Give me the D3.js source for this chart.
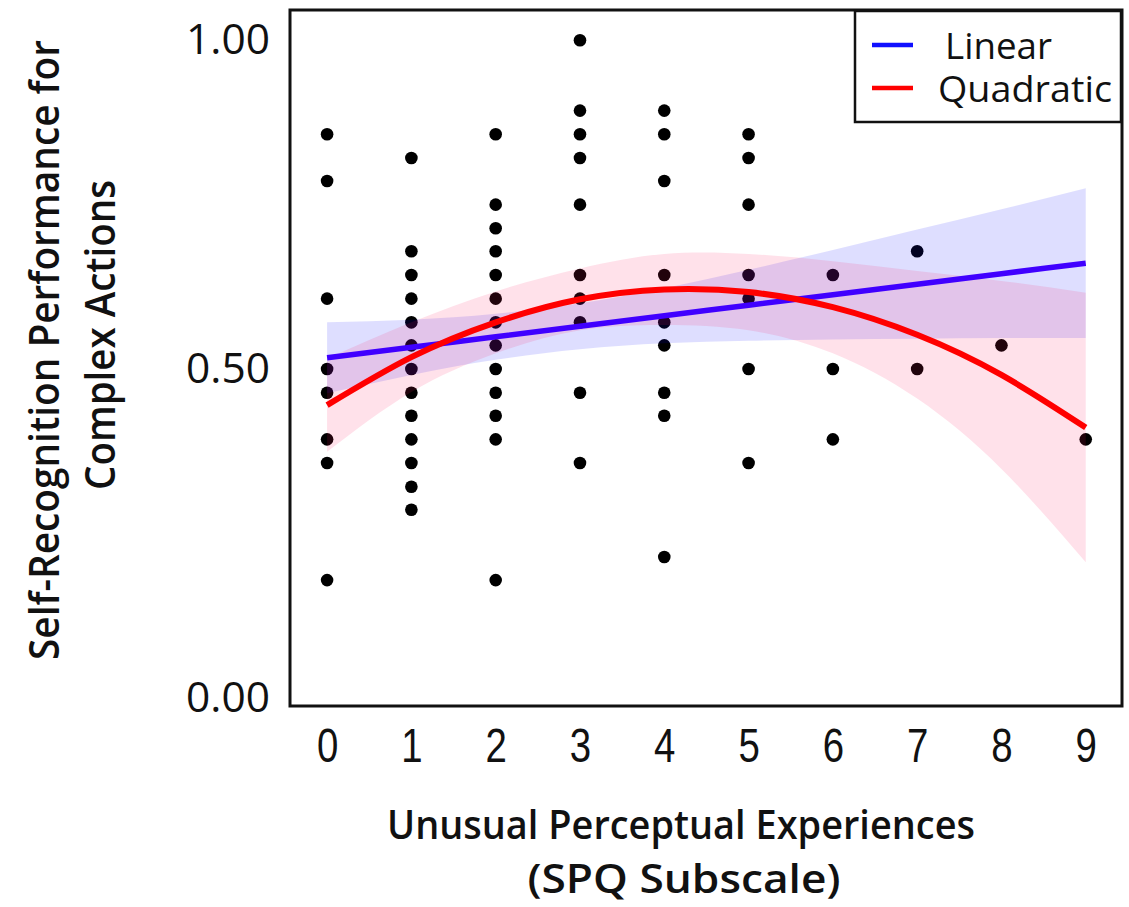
<!DOCTYPE html>
<html>
<head>
<meta charset="utf-8">
<script src="https://cdn.jsdelivr.net/npm/d3@7"></script>
<style>
  html, body { margin: 0; padding: 0; background: #ffffff; }
  svg { display: block; }
</style>
</head>
<body>
<svg id="chart" width="1129" height="907"></svg>
<script>
// ---------------- DATA ----------------
const scoreCategories = [0, 1, 2, 3, 4, 5, 6, 7, 8, 9];
const xTickLabels = ["0", "1", "2", "3", "4", "5", "6", "7", "8", "9"];
const yTickValues = [0, 0.5, 1];
const yTickLabels = ["0.00", "0.50", "1.00"];

// observed performance values per SPQ score
const score0 = [0.857, 0.786, 0.607, 0.500, 0.464, 0.393, 0.357, 0.179];
const score1 = [0.821, 0.679, 0.643, 0.607, 0.571, 0.536, 0.500, 0.464, 0.429, 0.393, 0.357, 0.321, 0.286];
const score2 = [0.857, 0.750, 0.714, 0.679, 0.643, 0.607, 0.571, 0.536, 0.500, 0.464, 0.429, 0.393, 0.179];
const score3 = [1.000, 0.893, 0.857, 0.821, 0.750, 0.643, 0.607, 0.571, 0.464, 0.357];
const score4 = [0.893, 0.857, 0.786, 0.643, 0.571, 0.536, 0.464, 0.429, 0.214];
const score5 = [0.857, 0.821, 0.750, 0.643, 0.607, 0.500, 0.357];
const score6 = [0.643, 0.500, 0.393];
const score7 = [0.679, 0.500];
const score8 = [0.536];
const score9 = [0.393];
const performanceByScore = [score0, score1, score2, score3, score4, score5, score6, score7, score8, score9];

// fitted curves at each score
const fitX = [0, 1, 2, 3, 4, 5, 6, 7, 8, 9];
const linearFit   = [0.517, 0.533, 0.549, 0.565, 0.581, 0.597, 0.613, 0.629, 0.645, 0.661];
const linearLower = [0.463, 0.491, 0.514, 0.530, 0.539, 0.543, 0.545, 0.546, 0.547, 0.547];
const linearUpper = [0.571, 0.575, 0.584, 0.600, 0.623, 0.651, 0.681, 0.712, 0.743, 0.775];
const quadFit     = [0.445, 0.518, 0.571, 0.606, 0.621, 0.617, 0.594, 0.552, 0.491, 0.411];
const quadLower   = [0.374, 0.465, 0.524, 0.559, 0.567, 0.559, 0.524, 0.455, 0.348, 0.206];
const quadUpper   = [0.516, 0.571, 0.618, 0.653, 0.675, 0.675, 0.664, 0.649, 0.634, 0.616];

const legendLabels = ["Linear", "Quadratic"];
const xTitleLines = ["Unusual Perceptual Experiences", "(SPQ Subscale)"];
const yTitleLines = ["Self-Recognition Performance for", "Complex Actions"];

// ---------------- CHART ----------------
const svg = d3.select("#chart");
const plot = { left: 290, right: 1122, top: 10, bottom: 706 };

const x = d3.scaleLinear().domain([-0.44, 9.43]).range([plot.left, plot.right]);
const y = d3.scaleLinear().domain([-0.0125, 1.046]).range([plot.bottom, plot.top]);

function fitWidth(sel, w) {
  sel.attr("textLength", w).attr("lengthAdjust", "spacingAndGlyphs");
}
function squeeze(sel, f) {
  sel.each(function () {
    const n = this.getComputedTextLength();
    d3.select(this).attr("textLength", n * f).attr("lengthAdjust", "spacingAndGlyphs");
  });
}

// points
const points = scoreCategories.flatMap((s, i) => performanceByScore[i].map(v => ({ s, v })));
svg.append("g")
  .selectAll("circle")
  .data(points)
  .join("circle")
  .attr("cx", d => x(d.s))
  .attr("cy", d => y(d.v))
  .attr("r", 6.3)
  .attr("fill", "#000");

// confidence bands
const idx = d3.range(fitX.length);
const band = (lo, hi) => d3.area()
  .x(i => x(fitX[i]))
  .y0(i => y(lo[i]))
  .y1(i => y(hi[i]))
  .curve(d3.curveNatural)(idx);
const curve = (vals) => d3.line()
  .x(i => x(fitX[i]))
  .y(i => y(vals[i]))
  .curve(d3.curveNatural)(idx);

svg.append("path").attr("d", band(linearLower, linearUpper))
  .attr("fill", "#0000ff").attr("fill-opacity", 0.13);
svg.append("path").attr("d", band(quadLower, quadUpper))
  .attr("fill", "#ff1a5e").attr("fill-opacity", 0.13);

svg.append("path").attr("d", curve(linearFit))
  .attr("fill", "none").attr("stroke", "#4000ff").attr("stroke-width", 5.5);
svg.append("path").attr("d", curve(quadFit))
  .attr("fill", "none").attr("stroke", "#ff0000").attr("stroke-width", 6);

// frame
svg.append("rect")
  .attr("x", plot.left).attr("y", plot.top)
  .attr("width", plot.right - plot.left).attr("height", plot.bottom - plot.top)
  .attr("fill", "none").attr("stroke", "#111").attr("stroke-width", 3);

// x axis
const xAxis = svg.append("g")
  .attr("transform", `translate(0,${plot.bottom})`)
  .call(d3.axisBottom(x).tickValues(scoreCategories).tickFormat((d, i) => xTickLabels[i]).tickSize(0));
xAxis.select(".domain").remove();
xAxis.selectAll("text")
  .attr("y", 56).attr("dy", 0)
  .attr("font-family", "'Liberation Sans', Arial, sans-serif")
  .attr("font-size", 48)
  .attr("fill", "#111")
  .call(squeeze, 0.8);

// y axis
const yAxis = svg.append("g")
  .attr("transform", `translate(${plot.left},0)`)
  .call(d3.axisLeft(y).tickValues(yTickValues).tickFormat((d, i) => yTickLabels[i]).tickSize(0).tickPadding(20));
yAxis.select(".domain").remove();
yAxis.selectAll("text")
  .attr("font-family", "'Open Sans', sans-serif")
  .attr("font-size", 42)
  .attr("fill", "#111")
  .call(fitWidth, 84);

// x title
const xTitle = svg.append("g")
  .attr("font-family", "'Open Sans', sans-serif")
  .attr("font-weight", 600)
  .attr("font-size", 40)
  .attr("fill", "#111")
  .attr("text-anchor", "middle");
xTitle.append("text").attr("x", 681).attr("y", 839).text(xTitleLines[0]).call(fitWidth, 588);
xTitle.append("text").attr("x", 684).attr("y", 893).text(xTitleLines[1]).call(fitWidth, 313);

// y title
const yTitle = svg.append("g")
  .attr("font-family", "'Open Sans', sans-serif")
  .attr("font-weight", 600)
  .attr("font-size", 41)
  .attr("fill", "#111")
  .attr("text-anchor", "middle");
yTitle.append("text").attr("transform", "translate(59,350) rotate(-90)").text(yTitleLines[0]).call(fitWidth, 620);
yTitle.append("text").attr("transform", "translate(115,335) rotate(-90)").text(yTitleLines[1]).call(fitWidth, 310);

// legend
const legendColors = ["#1010ff", "#ff0000"];
const legendWidths = [107, 174];
const legend = svg.append("g");
legend.append("rect")
  .attr("x", 855).attr("y", 11).attr("width", 266).attr("height", 111)
  .attr("fill", "#fff").attr("stroke", "#111").attr("stroke-width", 2.5);
const items = legend.selectAll("g.item").data(legendLabels).join("g").attr("class", "item")
  .attr("transform", (d, i) => `translate(0,${45 + i * 43})`);
items.append("line")
  .attr("x1", 872).attr("x2", 913).attr("y1", 0).attr("y2", 0)
  .attr("stroke", (d, i) => legendColors[i]).attr("stroke-width", 4.5);
items.append("text")
  .attr("x", (d, i) => i === 0 ? 945 : 938)
  .attr("y", 14)
  .attr("font-family", "'Open Sans', sans-serif")
  .attr("font-size", 37)
  .attr("fill", "#111")
  .text(d => d)
  .each(function (d, i) { fitWidth(d3.select(this), legendWidths[i]); });
</script>
</body>
</html>
